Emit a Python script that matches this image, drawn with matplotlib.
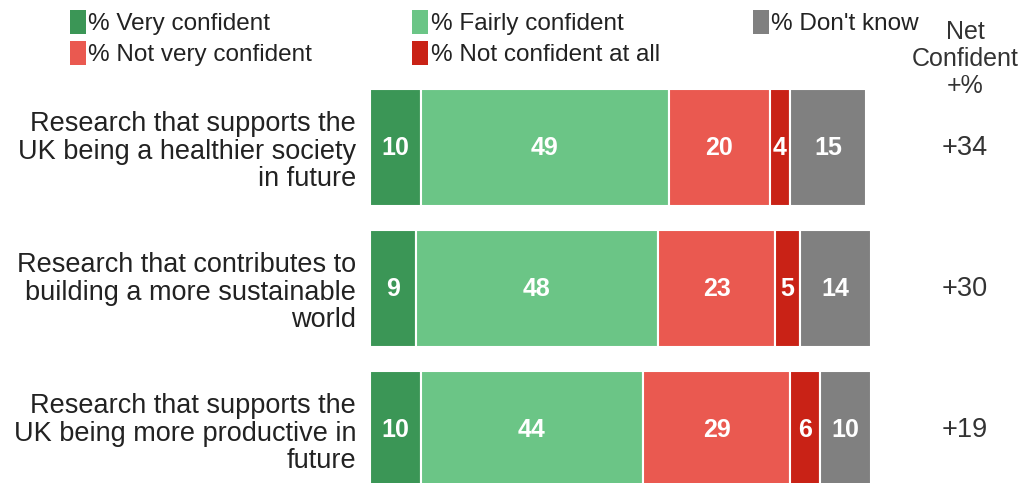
import numpy as np
import matplotlib.pyplot as plt
from matplotlib.patches import Patch

plt.rcParams['font.family'] = ['Liberation Sans', 'DejaVu Sans']

categories = [
    'Research that supports the\nUK being a healthier society\nin future',
    'Research that contributes to\nbuilding a more sustainable\nworld',
    'Research that supports the\nUK being more productive in\nfuture',
]
series_names = ['% Very confident', '% Fairly confident', '% Not very confident',
                '% Not confident at all', "% Don't know"]
very_confident = [10, 9, 10]
fairly_confident = [49, 48, 44]
not_very_confident = [20, 23, 29]
not_confident_at_all = [4, 5, 6]
dont_know = [15, 14, 10]
net_confident = ['+34', '+30', '+19']

colors = ['#3b9656', '#6bc586', '#ea5950', '#c92216', '#808080']

fig = plt.figure(figsize=(10.19, 4.83), dpi=100)
ax = fig.add_axes([370 / 1019, 0, 506 / 1019, 403 / 483])

series = [very_confident, fairly_confident, not_very_confident,
          not_confident_at_all, dont_know]
y = np.arange(len(categories))
left = np.zeros(len(categories))
for vals, col in zip(series, colors):
    vals = np.array(vals, dtype=float)
    ax.barh(y, vals, left=left, height=0.83, color=col, edgecolor='white', linewidth=1.5)
    for yi, (l, v) in enumerate(zip(left, vals)):
        ax.text(l + v / 2, yi, f'{v:.0f}', ha='center', va='center',
                color='white', fontsize=18, fontweight='bold')
    left += vals

# net confident column to the right of the bars
for yi, txt in enumerate(net_confident):
    ax.text(117.6, yi, txt, ha='center', va='center', fontsize=19.5, color='#333333')
fig.text(965 / 1019, 1 - 59 / 483, 'Net\nConfident\n+%', ha='center', va='center',
         fontsize=18, color='#333333', linespacing=1.16)

ax.set_xlim(0, 100)
ax.set_ylim(2.376, -0.482)
ax.set_yticks(y)
ax.set_yticklabels(categories, fontsize=19.5, color='#222222', linespacing=1.08)
ax.tick_params(axis='y', length=0, pad=10)
ax.set_xticks([])
for s in ax.spines.values():
    s.set_visible(False)

handles = [Patch(facecolor=c) for c in colors]
leg_kw = dict(frameon=False, fontsize=17.5, handlelength=0.65, handleheight=1.15,
              handletextpad=0.12, borderaxespad=0, labelcolor='#222222')
fig.legend([handles[0], handles[2], handles[1], handles[3]],
           [series_names[0], series_names[2], series_names[1], series_names[3]],
           ncol=2, loc='upper left', bbox_to_anchor=(60 / 1019, 1.0),
           columnspacing=4.1, labelspacing=0.25, **leg_kw)
fig.legend([handles[4]], [series_names[4]], loc='upper left',
           bbox_to_anchor=(743 / 1019, 1.0), **leg_kw)

fig.savefig('out.png', dpi=100)
